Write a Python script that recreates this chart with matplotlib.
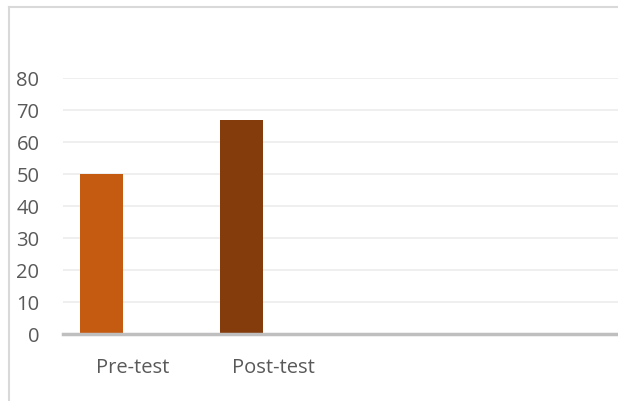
import matplotlib.pyplot as plt
from matplotlib.lines import Line2D

# Scores before and after the test
categories = ["Pre-test", "Post-test", "", ""]
scores = [50, 67, None, None]
bar_colors = ["#C55A11", "#843C0C"]
y_ticks = [0, 10, 20, 30, 40, 50, 60, 70, 80]

plt.rcParams['font.family'] = ['Open Sans', 'DejaVu Sans']

fig = plt.figure(figsize=(6.18, 4.01), dpi=100)
ax = fig.add_axes([63 / 618, 1 - 334 / 401, 1 - 63 / 618 + 0.01, (334 - 78) / 401])

# chart frame (only top and left edges fall inside the image)
fx, fy = 9 / 618, 1 - 7 / 401
fig.lines.append(Line2D([fx, fx], [0, fy], transform=fig.transFigure,
                        color="#D9D9D9", linewidth=1.5))
fig.lines.append(Line2D([fx, 1.01], [fy, fy], transform=fig.transFigure,
                        color="#D9D9D9", linewidth=1.5))

x = list(range(len(categories)))
for i, v in enumerate(scores):
    if v is None:
        continue
    ax.bar(i - 0.227, v, width=0.31, color=bar_colors[i], zorder=3)

ax.set_xlim(-0.5, 3.5)
ax.set_ylim(0, 80)
ax.set_yticks(y_ticks)
ax.set_xticks(x)
ax.set_xticklabels(categories)
ax.tick_params(axis='both', length=0, labelsize=14.5, colors="#595959")
ax.tick_params(axis='y', pad=17)
ax.tick_params(axis='x', pad=17)

ax.grid(axis='y', color="#EEEEEE", linewidth=1.3, zorder=0)
ax.set_axisbelow(True)
for s in ["left", "right", "top"]:
    ax.spines[s].set_visible(False)
ax.spines["bottom"].set_color("#BFBFBF")
ax.spines["bottom"].set_linewidth(2.5)
ax.spines["bottom"].set_zorder(4)

fig.savefig("out.png", dpi=100)
